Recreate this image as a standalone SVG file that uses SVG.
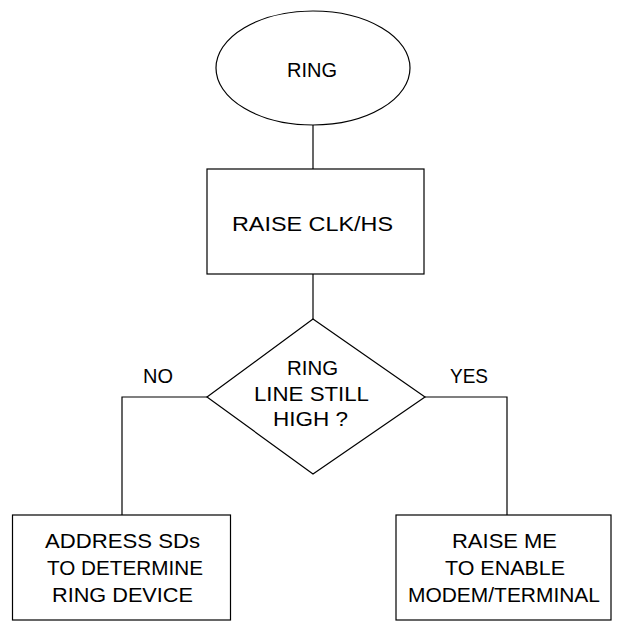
<svg xmlns="http://www.w3.org/2000/svg" width="621" height="622" viewBox="0 0 621 622">
<style>
.s{fill:#fff;stroke:#000;stroke-width:1.2}
.c{fill:none;stroke:#000;stroke-width:1.2}
text{font-family:"Liberation Sans",Arial,sans-serif;font-size:21px;fill:#000;text-anchor:middle}
</style>
<rect width="621" height="622" fill="#fff"/>
<g id="connectors">
<line class="c" x1="313" y1="125" x2="313" y2="169"/>
<line class="c" x1="313" y1="274" x2="313" y2="319"/>
<polyline class="c" points="207,397 122,397 122,515"/>
<polyline class="c" points="425,397 507,397 507,515"/>
<text x="158" y="383" textLength="30" lengthAdjust="spacingAndGlyphs">NO</text>
<text x="469" y="383" textLength="38" lengthAdjust="spacingAndGlyphs">YES</text>
</g>
<g id="ring">
<ellipse class="s" cx="313" cy="68" rx="97" ry="57"/>
<text x="312" y="77" textLength="50" lengthAdjust="spacingAndGlyphs">RING</text>
</g>
<g id="raise-clk">
<rect class="s" x="207" y="169" width="217" height="105"/>
<text x="312.5" y="231" textLength="161" lengthAdjust="spacingAndGlyphs">RAISE CLK/HS</text>
</g>
<g id="decision">
<polygon class="s" points="313,319 425,397 313,474 207,397"/>
<text x="312.5" y="375" textLength="51" lengthAdjust="spacingAndGlyphs">RING</text>
<text x="311.5" y="401" textLength="115" lengthAdjust="spacingAndGlyphs">LINE STILL</text>
<text x="310.5" y="426" textLength="75" lengthAdjust="spacingAndGlyphs">HIGH ?</text>
</g>
<g id="address">
<rect class="s" x="12.5" y="515" width="218" height="105"/>
<text x="122.5" y="548" textLength="155" lengthAdjust="spacingAndGlyphs">ADDRESS SDs</text>
<text x="125" y="575" textLength="156" lengthAdjust="spacingAndGlyphs">TO DETERMINE</text>
<text x="122.5" y="602" textLength="141" lengthAdjust="spacingAndGlyphs">RING DEVICE</text>
</g>
<g id="raise-me">
<rect class="s" x="396" y="515" width="215" height="105"/>
<text x="504.5" y="548" textLength="105" lengthAdjust="spacingAndGlyphs">RAISE ME</text>
<text x="505" y="575" textLength="120" lengthAdjust="spacingAndGlyphs">TO ENABLE</text>
<text x="504" y="602" textLength="192" lengthAdjust="spacingAndGlyphs">MODEM/TERMINAL</text>
</g>
</svg>
